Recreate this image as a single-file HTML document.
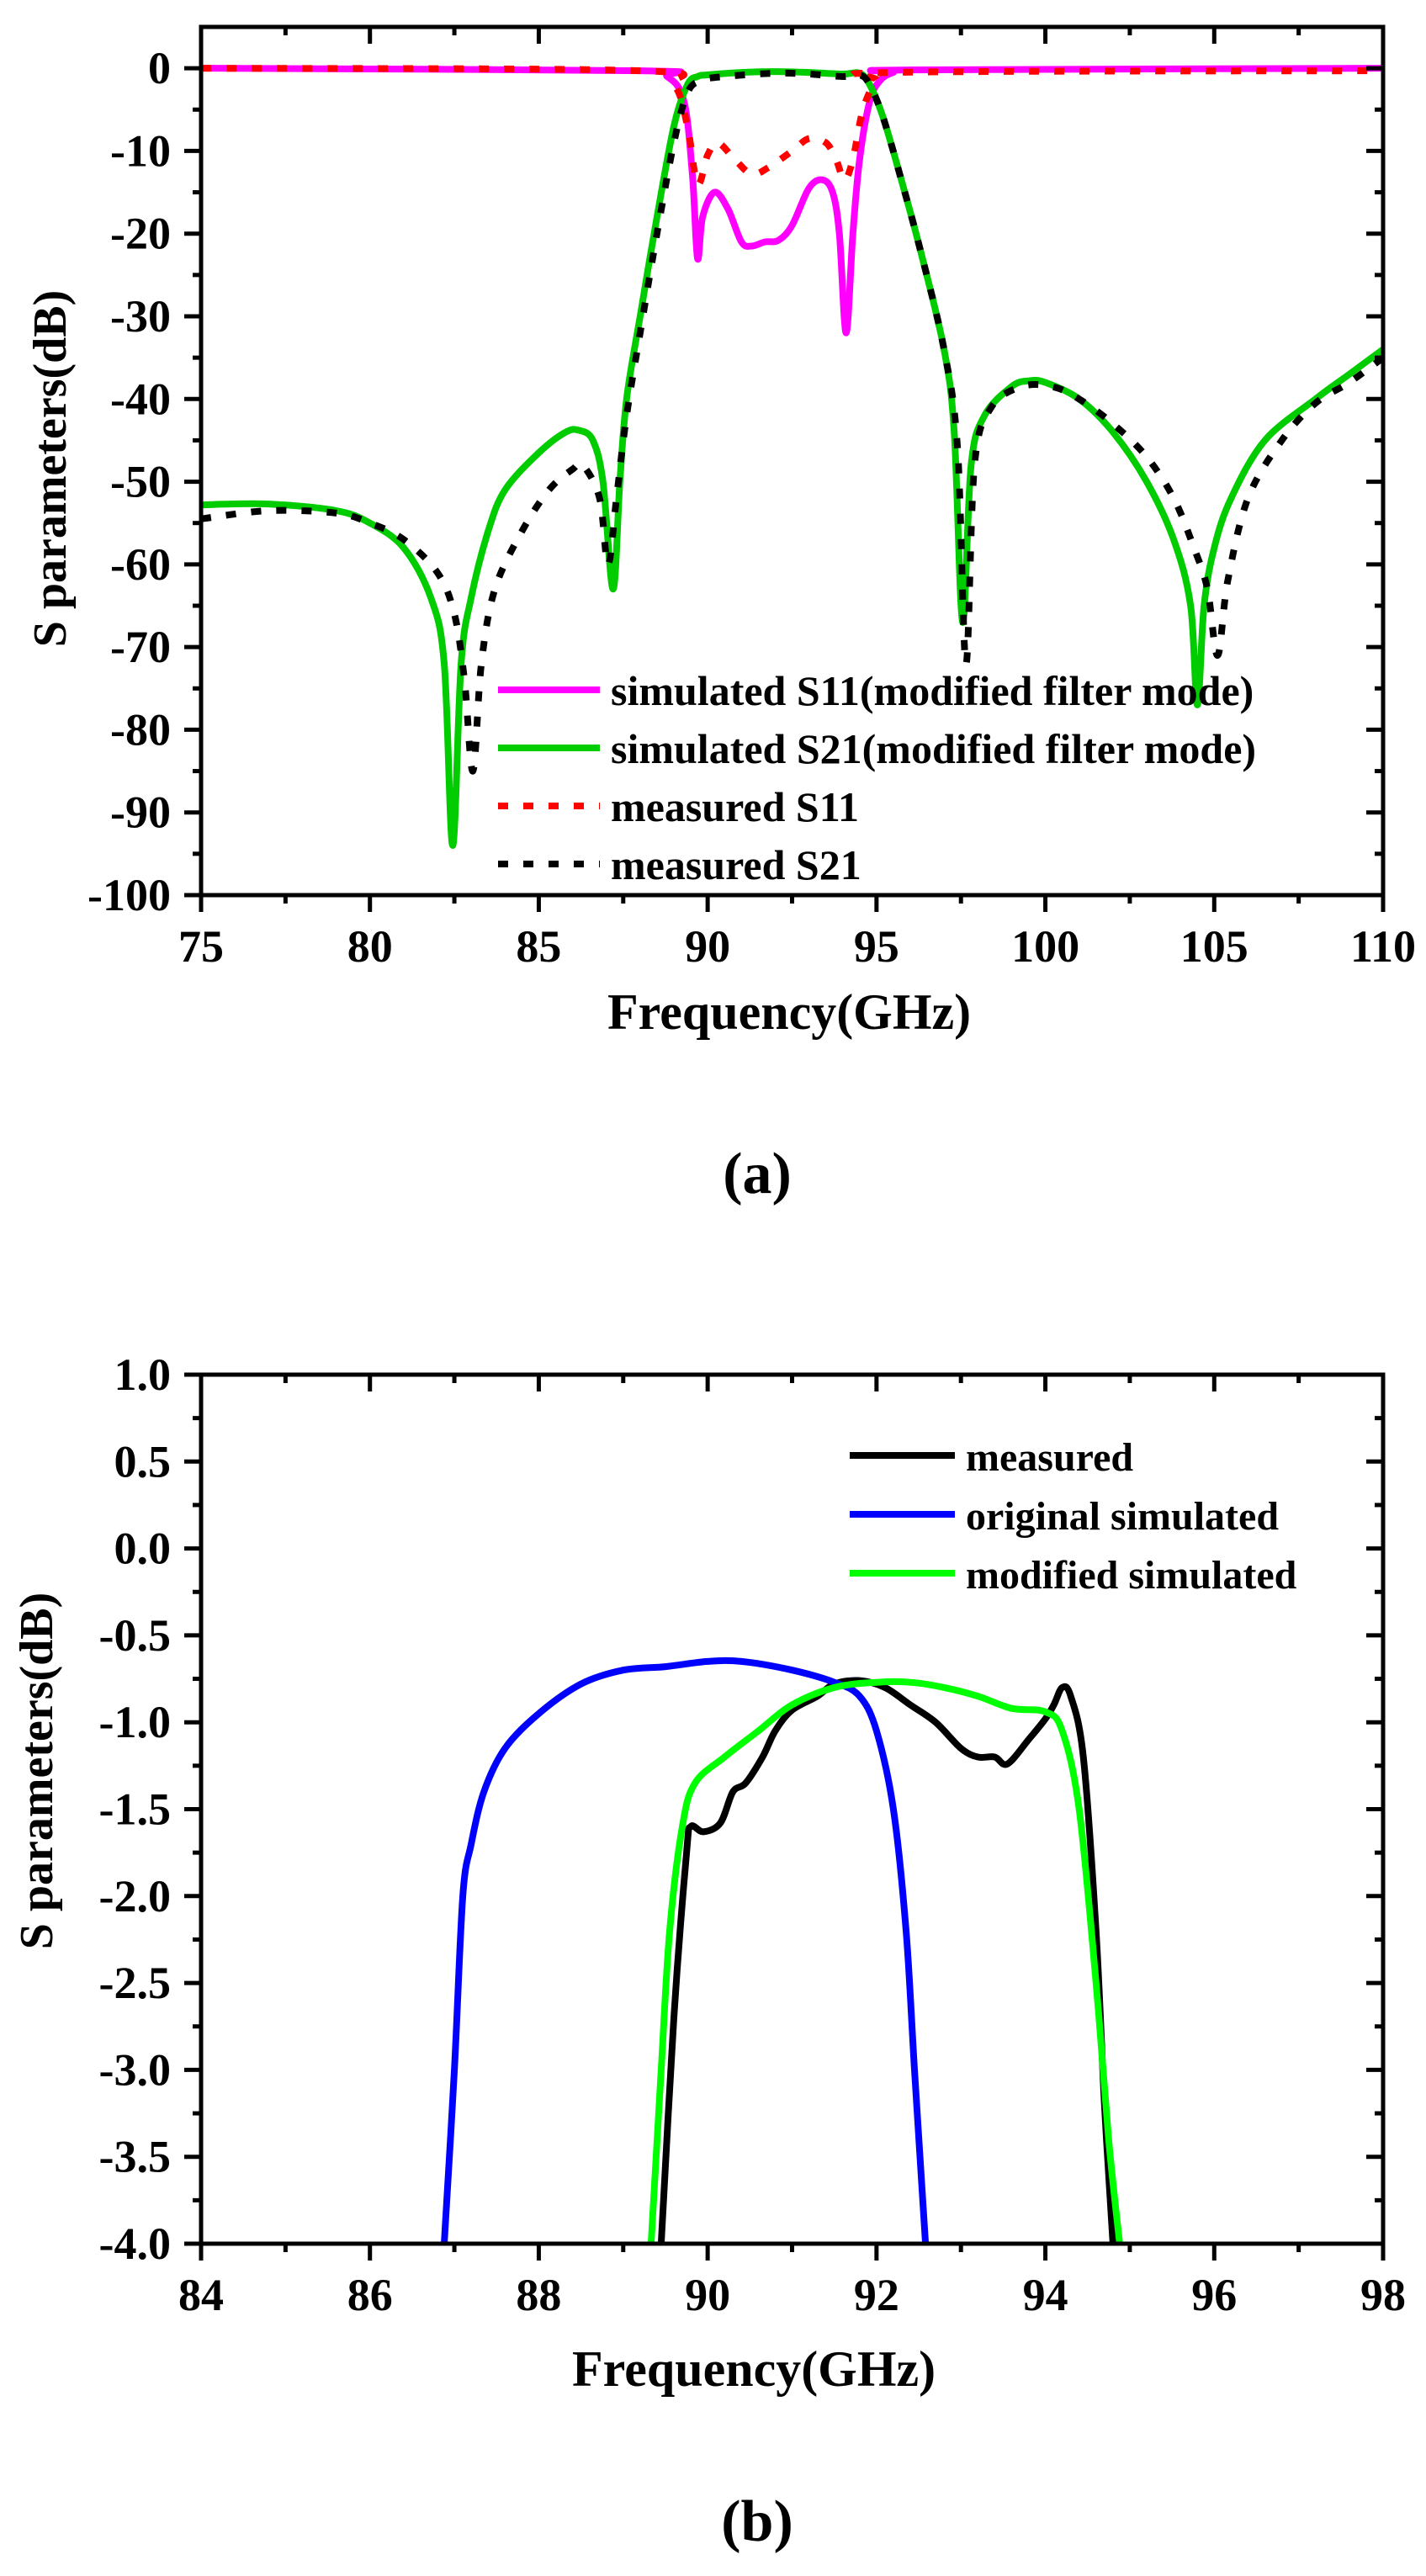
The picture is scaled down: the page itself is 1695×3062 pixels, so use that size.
<!DOCTYPE html>
<html><head><meta charset="utf-8"><style>
html,body{margin:0;padding:0;background:#fff;}
svg text{font-family:"Liberation Serif",serif;font-weight:bold;fill:#000;}
</style></head><body>
<svg id="fig" width="1695" height="3057" viewBox="0 0 1695 3057" xmlns="http://www.w3.org/2000/svg"></svg>
<script>
// ---- Chart (a) data ----
const aSimS21F=[75,77,79,80,81,81.8,82.2,82.45,82.7,83,83.5,84,85,85.8,86.2,86.6,86.9,87.2,87.4,87.6,88,88.5,89,89.4,89.7,90,91,92,93,94,94.5,94.8,95.2,95.7,96.3,97,97.3,97.55,97.8,98.2,99,99.5,100,101,102,103,103.8,104.3,104.5,104.7,105,105.5,106.5,108,109,110];
const aSimS21V=[-52.8,-52.7,-53.5,-55,-58,-64,-72,-94,-72,-64,-56,-51,-46.5,-44,-43.8,-45,-50,-63,-50,-40,-30,-18,-7,-2,-1,-0.8,-0.5,-0.4,-0.5,-0.7,-0.6,-2,-6,-13,-22,-34,-44,-67,-48,-42,-38.5,-37.8,-38,-40,-44,-50,-57,-65,-77,-65,-58,-52,-45,-40,-37,-34];
const aMeasS21F=[75,77,79,80,81,82,82.5,82.8,83.05,83.3,83.7,84.5,85.3,86,86.3,86.8,87.05,87.3,87.6,88,88.5,89,89.4,89.8,90.5,92,93,94,94.5,94.8,95.2,95.7,96.3,97,97.4,97.65,97.9,98.4,99.3,100.2,101,102,103,103.8,104.4,104.8,105.1,105.4,106,107,108,109,110];
const aMeasS21V=[-54.5,-53.5,-53.8,-55,-57,-61,-66,-74,-85,-72,-63,-56,-51,-48.5,-48,-52,-60,-52,-42,-32,-20,-9,-3,-1.5,-1,-0.6,-0.7,-1,-0.8,-2,-6,-13,-22,-34,-46,-72,-48,-41,-38.5,-38.5,-40,-43,-47,-52,-58,-63,-71,-62,-52,-45,-40.5,-38,-35];
const aSimS11F=[75,88,88.8,89.3,89.55,89.7,89.85,90.2,90.6,91,91.3,91.7,92.1,92.5,93,93.4,93.7,93.9,94.1,94.3,94.5,94.8,95.1,95.5,96,110];
const aSimS11V=[0,-0.3,-1,-4,-13,-23,-18,-15,-17,-21,-21.5,-21,-20.8,-19,-14.5,-13.5,-15,-20,-32,-20,-11,-4,-1.5,-0.5,-0.2,0];
const aMeasS11F=[75,88,89,89.4,89.7,90,90.3,90.8,91.3,91.8,92.5,93,93.5,93.8,94.05,94.3,94.6,95,95.5,110];
const aMeasS11V=[0,-0.3,-2,-7,-14,-10.5,-9,-11,-12.8,-12,-10,-8.5,-9,-11,-13.5,-11,-5,-1.5,-0.5,-0.3];
const aXTicks=[75,80,85,90,95,100,105,110];
const aYTicks=[0,-10,-20,-30,-40,-50,-60,-70,-80,-90,-100];
// ---- Chart (b) data ----
const bOrigF=[86.88,87,87.1,87.2,87.35,87.6,88,88.5,89,89.5,90,90.4,91,91.5,91.8,92,92.2,92.35,92.45,92.58];
const bOrigV=[-4,-3,-2,-1.7,-1.4,-1.15,-0.95,-0.78,-0.7,-0.68,-0.65,-0.65,-0.7,-0.77,-0.85,-1.05,-1.5,-2.2,-3,-4];
const bModF=[89.33,89.45,89.55,89.7,89.85,90.2,90.6,91,91.5,92,92.4,92.8,93.2,93.6,94,94.2,94.4,94.6,94.75,94.88];
const bModV=[-4,-3,-2.2,-1.6,-1.35,-1.2,-1.05,-0.9,-0.8,-0.77,-0.77,-0.8,-0.85,-0.92,-0.94,-1.05,-1.5,-2.5,-3.4,-4];
const bMeasF=[89.45,89.6,89.75,89.8,89.95,90.15,90.3,90.45,90.65,90.8,91,91.3,91.5,91.8,92.1,92.4,92.7,93,93.2,93.4,93.55,93.8,94,94.1,94.2,94.3,94.45,94.6,94.7,94.8];
const bMeasV=[-4,-2.7,-1.75,-1.6,-1.63,-1.58,-1.4,-1.35,-1.2,-1.05,-0.93,-0.85,-0.78,-0.76,-0.8,-0.9,-1,-1.15,-1.2,-1.2,-1.24,-1.1,-0.98,-0.9,-0.8,-0.85,-1.2,-2.2,-3.2,-4];
const bXTicks=[84,86,88,90,92,94,96,98];
const bYTicks=[1.0,0.5,0.0,-0.5,-1.0,-1.5,-2.0,-2.5,-3.0,-3.5,-4.0];

const NS="http://www.w3.org/2000/svg";
const svg=document.getElementById('fig');
function mk(tag,attrs,parent){const e=document.createElementNS(NS,tag);for(const k in attrs)e.setAttribute(k,attrs[k]);(parent||svg).appendChild(e);return e;}
function smooth(pts){
  let d='M'+pts[0][0].toFixed(1)+','+pts[0][1].toFixed(1);
  for(let i=0;i<pts.length-1;i++){
    const p0=pts[Math.max(0,i-1)],p1=pts[i],p2=pts[i+1],p3=pts[Math.min(pts.length-1,i+2)];
    const c1x=p1[0]+(p2[0]-p0[0])/6,c1y=p1[1]+(p2[1]-p0[1])/6;
    const c2x=p2[0]-(p3[0]-p1[0])/6,c2y=p2[1]-(p3[1]-p1[1])/6;
    d+='C'+c1x.toFixed(1)+','+c1y.toFixed(1)+' '+c2x.toFixed(1)+','+c2y.toFixed(1)+' '+p2[0].toFixed(1)+','+p2[1].toFixed(1);
  }
  return d;
}

function chart(cfg){
  const g=mk('g',{});
  
  
  const L=239,R=1644,T=cfg.top,B=cfg.bottom;
  const sx=v=>L+(v-cfg.x0)/(cfg.x1-cfg.x0)*(R-L);
  const sy=v=>T+(cfg.y1-v)/(cfg.y1-cfg.y0)*(B-T);
  const clip='clip-'+cfg.name;
  const cp=mk('clipPath',{id:clip},g);mk('rect',{x:L,y:T,width:R-L,height:B-T},cp);
  cfg.series.forEach(s=>{
    const pts=s.f.map((f,i)=>[sx(f),sy(s.v[i])]);
    const p=mk('path',{d:smooth(pts),fill:'none',stroke:s.color,'stroke-width':8,'stroke-linejoin':'round','clip-path':'url(#'+clip+')'},g);
    if(s.dash)p.setAttribute('stroke-dasharray','12 18');
    
    
  });
  const fr=mk('rect',{x:L,y:T,width:R-L,height:B-T,fill:'none',stroke:'#000','stroke-width':5},g);
  
  
  const xt=cfg.xTicks;
  for(let i=0;i<xt.length;i++){
    const x=sx(xt[i]);
    mk('line',{x1:x,y1:B,x2:x,y2:B+20,stroke:'#000','stroke-width':5},g);
    mk('line',{x1:x,y1:T,x2:x,y2:T+20,stroke:'#000','stroke-width':5},g);
    const t=mk('text',{x:x,y:cfg.xLabelY,'font-size':54,'text-anchor':'middle'},g);t.textContent=cfg.xFmt(xt[i]);
    
    
    if(i<xt.length-1){const xm=sx((xt[i]+xt[i+1])/2);
      mk('line',{x1:xm,y1:B,x2:xm,y2:B+10,stroke:'#000','stroke-width':5},g);
      mk('line',{x1:xm,y1:T,x2:xm,y2:T+10,stroke:'#000','stroke-width':5},g);}
  }
  const yt=cfg.yTicks;
  for(let i=0;i<yt.length;i++){
    const y=sy(yt[i]);
    mk('line',{x1:L-20,y1:y,x2:L,y2:y,stroke:'#000','stroke-width':5},g);
    mk('line',{x1:R-20,y1:y,x2:R,y2:y,stroke:'#000','stroke-width':5},g);
    const t=mk('text',{x:203,y:y+18,'font-size':54,'text-anchor':'end'},g);t.textContent=cfg.yFmt(yt[i]);
    
    
    if(i<yt.length-1){const ym=sy((yt[i]+yt[i+1])/2);
      mk('line',{x1:L-10,y1:ym,x2:L,y2:ym,stroke:'#000','stroke-width':5},g);
      mk('line',{x1:R-10,y1:ym,x2:R,y2:ym,stroke:'#000','stroke-width':5},g);}
  }
  const xtit=mk('text',{x:cfg.xTitleX,y:cfg.xTitleY,'font-size':60},g);xtit.textContent='Frequency(GHz)';
  
  
  const ytit=mk('text',{x:0,y:0,'font-size':56,'text-anchor':'middle',transform:'translate('+cfg.yTitleX+','+cfg.yTitleY+') rotate(-90)'},g);ytit.textContent='S parameters(dB)';
  
  
  cfg.series.forEach((s,i)=>{
    const y=cfg.leg.y0+i*cfg.leg.dy;
    const ln=mk('line',{x1:cfg.leg.x1,y1:y,x2:cfg.leg.x2,y2:y,stroke:s.color,'stroke-width':8},g);
    if(s.dash)ln.setAttribute('stroke-dasharray','12 18');
    
    
    const t=mk('text',{x:cfg.leg.tx,y:y+cfg.leg.off,'font-size':cfg.leg.fs},g);t.textContent=s.label;
    
    
  });
  const cap=mk('text',{x:900,y:cfg.capY,'font-size':70,'text-anchor':'middle','font-weight':'normal'},g);
  cap.innerHTML='(<tspan font-weight="bold">'+cfg.cap+'</tspan>)';
  
  
}

chart({name:'chart-a',top:32,bottom:1064,x0:75,x1:110,y0:-100,y1:5,
  xTicks:aXTicks,yTicks:aYTicks,xFmt:v=>String(v),yFmt:v=>String(v),
  xLabelY:1143,xTitleX:722,xTitleY:1223,yTitleX:78,yTitleY:557,capY:1418,cap:'a',
  leg:{x1:592,x2:713,tx:726,y0:820,dy:69,fs:50,off:18},
  series:[
    {key:'series-sim-s11',label:'simulated S11(modified filter mode)',color:'#ff00ff',f:aSimS11F,v:aSimS11V},
    {key:'series-sim-s21',label:'simulated S21(modified filter mode)',color:'#00cc00',f:aSimS21F,v:aSimS21V},
    {key:'series-meas-s11',label:'measured S11',color:'#ff0000',dash:true,f:aMeasS11F,v:aMeasS11V},
    {key:'series-meas-s21',label:'measured S21',color:'#000000',dash:true,f:aMeasS21F,v:aMeasS21V}
  ]});
chart({name:'chart-b',top:1634,bottom:2667,x0:84,x1:98,y0:-4,y1:1,
  xTicks:bXTicks,yTicks:bYTicks,xFmt:v=>String(v),yFmt:v=>v.toFixed(1),
  xLabelY:2746,xTitleX:680,xTitleY:2836,yTitleX:62,yTitleY:2105,capY:3020,cap:'b',
  leg:{x1:1010,x2:1135,tx:1148,y0:1730,dy:70,fs:48,off:18},
  series:[
    {key:'series-measured',label:'measured',color:'#000000',f:bMeasF,v:bMeasV},
    {key:'series-original-simulated',label:'original simulated',color:'#0000ff',f:bOrigF,v:bOrigV},
    {key:'series-modified-simulated',label:'modified simulated',color:'#00ff00',f:bModF,v:bModV}
  ]});
</script>
</body></html>
